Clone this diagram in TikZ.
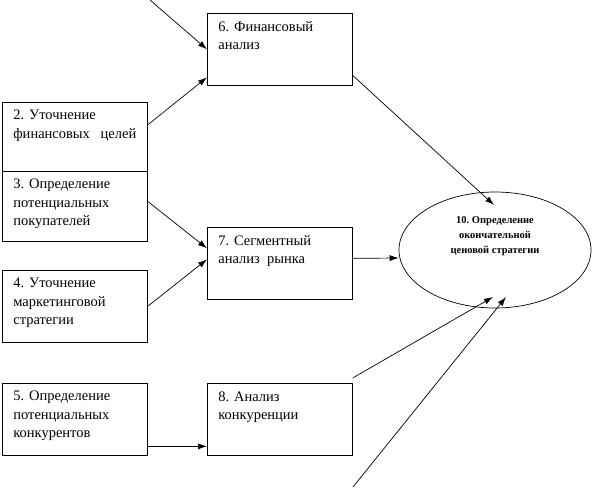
\documentclass[tikz,border=0pt]{standalone}
\usepackage{fontspec}
\setmainfont{Liberation Serif}
\usetikzlibrary{arrows.meta,calc,positioning,shapes.geometric}
\tikzset{%
	blk/.style   = {draw, rectangle, line width=0.7pt, inner xsep=11pt, inner ysep=8pt, anchor=north west, font=\fontsize{14.5}{18.3}\selectfont},
	goal/.style  = {draw, ellipse, line width=0.7pt, minimum width=192pt, minimum height=116pt, align=center, font=\fontsize{10.5}{15}\selectfont\bfseries},
	arrow/.style = {line width=0.7pt, -{Latex[length=9pt,width=6pt]}},
}
\newcommand{\blktext}[2]{\parbox[c][#1][t]{123pt}{#2}}

\begin{document}
\begin{tikzpicture}[x=1pt,y=-1pt]
	\useasboundingbox (0,0) rectangle (594,488);
	% boxes
	\node[blk] (fin)  at (207,13)  {\blktext{56pt}{6. Финансовый\\анализ}};
	\node[blk] (goal2) at (2,102)  {\blktext{53pt}{2. Уточнение\\финансовых~~~целей}};
	\node[blk] (buy3) at (2,171)   {\blktext{54pt}{3. Определение\\потенциальных\\покупателей}};
	\node[blk] (seg)  at (207,227) {\blktext{56pt}{7. Сегментный\\анализ~~рынка}};
	\node[blk] (mkt4) at (2,270)   {\blktext{56pt}{4. Уточнение\\маркетинговой\\стратегии}};
	\node[blk] (com5) at (2,383)   {\blktext{56pt}{5. Определение\\потенциальных\\конкурентов}};
	\node[blk] (comp) at (207,383) {\blktext{56pt}{8. Анализ\\конкуренции}};
	\node[goal] (final) at (495,250) {10.~Определение\\окончательной\\ценовой стратегии\\[15pt]\mbox{}};
	% free ends
	\coordinate (intop) at (150,0);
	\coordinate (inbot) at (353,487);
	% connectors
	\draw[arrow] (intop) -- (fin.west);
	\draw[arrow] ([yshift=12]goal2.east) -- ([yshift=-28]fin.west);
	\draw[arrow] ([yshift=-26]fin.east) -- ([shift={(-1,-45)}]final.center);
	\draw[arrow] ([yshift=5]buy3.east) -- ([yshift=15]seg.west);
	\draw[arrow] (mkt4.east) -- ([yshift=4]seg.west);
	\draw[arrow] ([yshift=5]seg.east) -- ([yshift=-8]final.west);
	\draw[arrow] ([yshift=5]comp.north east) -- ([shift={(-2,47)}]final.center);
	\draw[arrow] (inbot) -- ([shift={(11,47)}]final.center);
	\draw[arrow] ([yshift=-27]com5.east) -- ([yshift=-27]comp.west);
\end{tikzpicture}
\end{document}
